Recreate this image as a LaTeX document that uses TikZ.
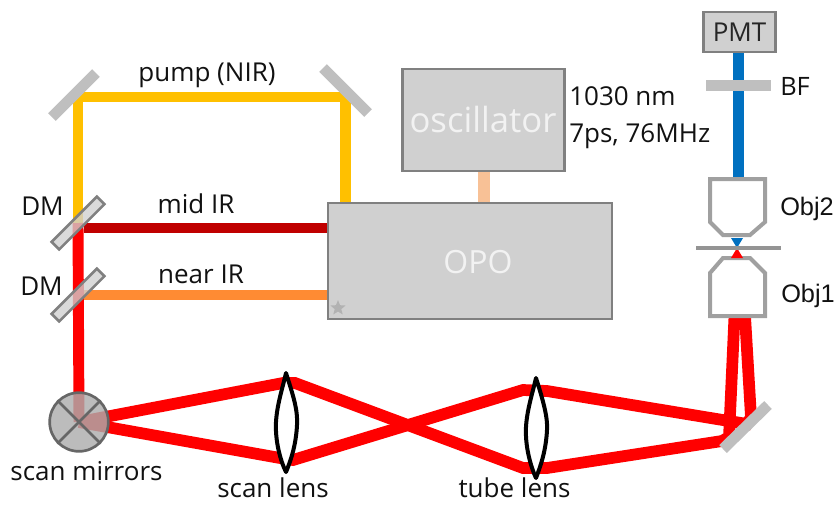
\documentclass[tikz,border=0pt]{standalone}
\usepackage{fontspec}
\setmainfont{Open Sans}
\newfontfamily\arialfont{Liberation Sans}
\usetikzlibrary{shapes.geometric}
\newcommand{\pxfont}[1]{\fontsize{#1}{#1}\selectfont}
\tikzset{
  x=0.75pt,y=-0.75pt,
  beam/.style={line width=8.2pt,line join=miter},
  redray/.style={beam,line width=8.8pt,draw=beamred},
  mirrorbar/.style={line width=8.2pt,draw=mirrorgray},
  dmbar/.style={rectangle,draw=boxline,line width=1.9pt,fill=boxfill,fill opacity=.78,minimum width=48pt,minimum height=8pt,inner sep=0pt,rotate=45},
  unitbox/.style={rectangle,draw=boxline,line width=2.2pt,fill=boxfill,inner sep=0pt},
  objective/.style={draw=objgray,line width=3pt,line join=miter,fill=white},
  lensshape/.style={draw=black,line width=3pt,fill=white,line join=round},
  lab/.style={inner sep=0pt,text=labelblack,font=\pxfont{19.5pt}},
  boxtext/.style={inner sep=0pt,text=boxtextcol},
}
\definecolor{beamred}{HTML}{FF0000}
\definecolor{beamyellow}{HTML}{FFC000}
\definecolor{beamdark}{HTML}{C00000}
\definecolor{beamorange}{HTML}{FF8B33}
\definecolor{beampale}{HTML}{F8C196}
\definecolor{beamblue}{HTML}{0070C0}
\definecolor{mirrorgray}{HTML}{BFBFBF}
\definecolor{boxfill}{HTML}{D0D0D0}
\definecolor{boxline}{HTML}{808080}
\definecolor{objgray}{HTML}{A0A0A0}
\definecolor{labelblack}{HTML}{111111}
\definecolor{boxtextcol}{HTML}{F2F2F2}
\begin{document}
\begin{tikzpicture}
\useasboundingbox (0,0) rectangle (838,504);
% coordinates
\coordinate (opoY) at (345.5,204);
\coordinate (cTR) at (345.5,97);
\coordinate (cTL) at (78,97);
\coordinate (dm1c) at (78,223);
\coordinate (dm2c) at (78,295);
\coordinate (mc) at (79,422);
\coordinate (L1up) at (283,383);
\coordinate (L1upb) at (295,383);
\coordinate (L1lo) at (280,458);
\coordinate (L1lob) at (293,460);
\coordinate (L2up) at (523,390);
\coordinate (L2upb) at (547,391);
\coordinate (L2lo) at (523,468);
\coordinate (L2lob) at (547,468);
\coordinate (Ma) at (747,424);
\coordinate (Mb) at (722,441);
\coordinate (Mc) at (729,437);
\coordinate (Ob1) at (734.5,316);
\coordinate (Ob2) at (745,316);
\coordinate (Mv) at (751,417);
% beams
\draw[beam,draw=beamyellow] (opoY) -- (cTR) -- (cTL) -- (dm1c);
\draw[beam,draw=beamblue] (738.5,52) -- (738.5,180);
\draw[redray] (mc) -- (L1up) -- (L1upb) -- (L2lo) -- (L2lob) -- (Mb) -- (Mc) -- (Ob1);
\draw[redray] (mc) -- (L1lo) -- (L1lob) -- (L2up) -- (L2upb) -- (Ma) -- (Mv) -- (Ob2);
\draw[beam,draw=beamred] (78,223) -- (mc);
\draw[beam,draw=beamdark] (84,228) -- (329,228);
\draw[beam,draw=beamorange] (84,295) -- (329,295);
% boxes
\node[unitbox,minimum width=122pt,minimum height=76.5pt] (osc) at (483.5,120) {};
\node[boxtext,font=\pxfont{26pt},anchor=base] (osctxt) at (483,132) {oscillator};
\node[unitbox,minimum width=213pt,minimum height=87pt] (opo) at (470,261) {};
\node[boxtext,font=\pxfont{24pt},anchor=base] (opotxt) at (478,273) {OPO};
\draw[beam,line width=9pt,draw=beampale] (osc.south) -- (opo.north -| osc.south);
\node[star,star points=5,star point ratio=2.3,fill=black!30,inner sep=0pt,minimum size=12pt] (st) at (338,308) {};
\node[unitbox,minimum width=54.5pt,minimum height=30pt] (pmt) at (739.5,32) {};
\node[inner sep=0pt,text=black!85,font=\pxfont{19.5pt},anchor=base] (pmttxt) at (739.5,41) {PMT};
% mirrors
\draw[mirrorbar] (96,73) coordinate (m1a) -- (52,117) coordinate (m1b);
\draw[mirrorbar] (323,68) coordinate (m2a) -- (368,113) coordinate (m2b);
\draw[mirrorbar] (768,405) coordinate (m3a) -- (723,449) coordinate (m3b);
\draw[mirrorbar] (706,85.5) coordinate (bfa) -- (771,85.5) coordinate (bfb);
\node[dmbar] (dm1) at (78,223) {};
\node[dmbar] (dm2) at (78,295) {};
% scan mirror
\node[circle,draw=black!60,line width=2pt,fill=black!32,fill opacity=.82,minimum size=44pt,inner sep=0pt] (scan) at (mc) {};
\draw[draw=black!60,line width=2pt] (scan.45) -- (scan.225) (scan.135) -- (scan.315);
% lenses
\draw[lensshape] (286,373) coordinate (l1t) .. controls (293,395) and (298,410) .. (297,425) .. controls (296,445) and (291,460) .. (286,472) coordinate (l1b) .. controls (280,460) and (275,440) .. (276,422) .. controls (277,405) and (282,390) .. (286,373) -- cycle;
\draw[lensshape] (536,378) coordinate (l2t) .. controls (543,400) and (548,418) .. (547,430) .. controls (546,450) and (541,465) .. (536,478) coordinate (l2b) .. controls (530,465) and (525,445) .. (526,427) .. controls (527,410) and (532,395) .. (536,378) -- cycle;
% objectives
\draw[objective] (710,179) -- (765,179) -- (765,222) -- (750,235) -- (723,235) -- (710,222) -- cycle;
\draw[objective] (723,258) -- (750,258) -- (765,273) -- (765,316) -- (710,316) -- (710,273) -- cycle;
\fill[beamblue] (731,238) -- (743,238) -- (737,248) -- cycle;
\fill[beamred] (737,248) -- (731,258) -- (743,258) -- cycle;
\draw[draw=black!42,line width=3pt] (696,248) -- (781,248);
% labels
\node[lab,anchor=base] (tp) at (207,81) {pump (NIR)};
\node[lab,anchor=base] (tm) at (196,213) {mid IR};
\node[lab,anchor=base] (tn) at (201,283) {near IR};
\node[lab,anchor=base] (d1) at (42.5,215) {DM};
\node[lab,anchor=base] (d2) at (41.5,295) {DM};
\node[lab,anchor=base west] (t1) at (569,105) {1030 nm};
\node[lab,anchor=base west] (t2) at (569,142) {7ps, 76MHz};
\node[lab,anchor=base west,font=\pxfont{19pt}] (bf) at (780,95) {BF};
\node[lab,anchor=base west,font=\arialfont\pxfont{19pt}] (ob2) at (780,215) {Obj2};
\node[lab,anchor=base west,font=\arialfont\pxfont{19pt}] (ob1) at (781,302) {Obj1};
\node[lab,anchor=base] (sm) at (86.5,480) {scan mirrors};
\node[lab,anchor=base] (sl) at (273,497) {scan lens};
\node[lab,anchor=base] (tl) at (514.5,497) {tube lens};
\end{tikzpicture}
\end{document}
